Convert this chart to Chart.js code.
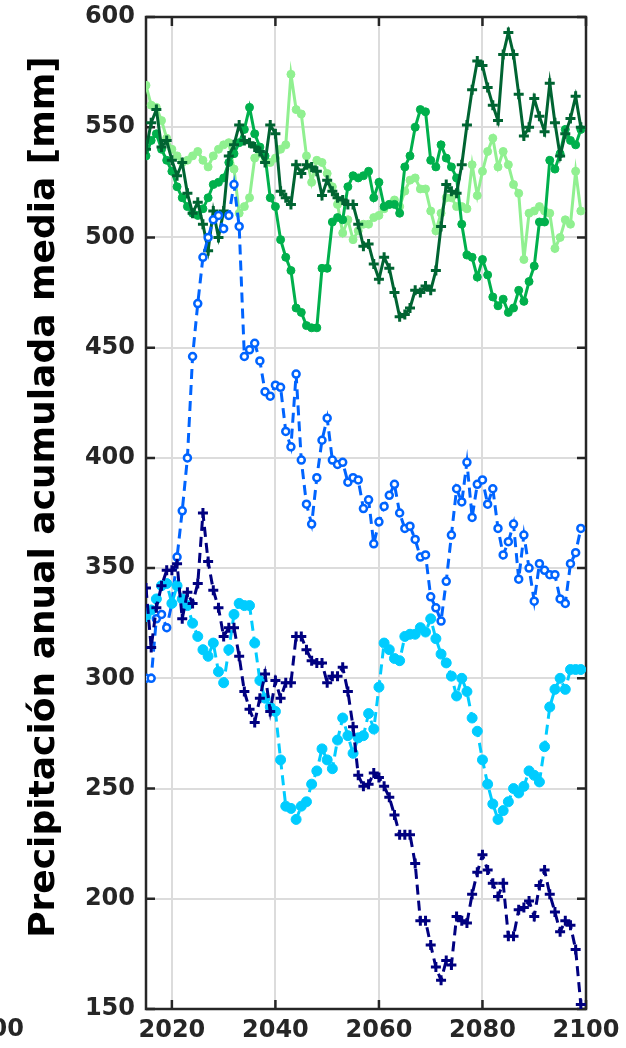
<!DOCTYPE html>
<html>
<head>
<meta charset="utf-8">
<script src="https://cdn.jsdelivr.net/npm/chart.js@4.4.0/dist/chart.umd.min.js"></script>
<style>
  html, body { margin: 0; padding: 0; background: #fff; }
  #wrap { width: 626px; height: 1048px; }
</style>
</head>
<body>
<div id="wrap"><canvas id="chart" width="626" height="1048"></canvas></div>
<script>
// Yearly series, 2015..2099
const firstYear = 2015;
const xTicks = [2020, 2040, 2060, 2080, 2100];
const yTicks = [150, 200, 250, 300, 350, 400, 450, 500, 550, 600];
const yTitle = 'Precipitación anual acumulada media [mm]';
const cutLabel = '00';

const lightGreen = [
  569, 560, 559, 553, 545, 540, 537, 534, 535, 537,
  539, 535, 532, 537, 540, 542, 543, 531, 511, 514,
  518, 536, 538, 535, 534, 536, 540, 542, 574, 558,
  556, 537, 525, 535, 534, 529, 523, 515, 502, 508,
  499, 503, 506, 506, 509, 510, 513, 515, 517, 514,
  521, 526, 527, 522, 522, 512, 503, 511, 518, 518,
  514, 514, 513, 533, 519, 530, 539, 545, 532, 539,
  533, 524, 520, 490, 511, 512, 514, 512, 511, 495,
  500, 508, 506, 530, 512
];
const medGreen = [
  537, 544, 547, 540, 535, 530, 523, 518, 514, 511,
  510, 513, 518, 524, 525, 527, 534, 538, 543, 549,
  559, 547, 541, 537, 518, 514, 499, 491, 485, 468,
  466, 460, 459, 459, 486, 486, 507, 509, 508, 523,
  528, 527, 528, 530, 518, 525, 514, 515, 515, 511,
  532, 537, 550, 558, 557, 535, 532, 542, 536, 532,
  527, 506, 492, 491, 482, 490, 483, 473, 469, 472,
  466, 468, 476, 471, 480, 487, 507, 507, 535, 531,
  538, 549, 544, 542, 549
];
const darkGreen = [
  540, 552, 558, 541, 544, 535, 528, 534, 520, 511,
  516, 506, 494, 512, 500, 512, 537, 542, 551, 544,
  543, 541, 539, 534, 551, 547, 521, 518, 515, 533,
  529, 533, 532, 530, 519, 526, 521, 518, 517, 515,
  515, 506, 496, 497, 488, 481, 491, 486, 475, 464,
  465, 468, 476, 475, 478, 476, 485, 505, 524, 521,
  520, 533, 551, 567, 580, 578, 568, 560, 553, 583,
  593, 583, 565, 546, 550, 563, 555, 548, 570, 552,
  537, 547, 554, 564, 550
];
const blueVals = [
  300, 300, 327, 329, 323, 334, 355, 376, 400, 446,
  470, 491, 500, 508, 510, 504, 510, 524, 505, 446,
  449, 452, 444, 430, 428, 433, 432, 412, 405, 438,
  399, 379, 370, 391, 408, 418, 399, 397, 398, 389,
  391, 390, 377, 381, 361, 371, 378, 383, 388, 375,
  368, 369, 363, 355, 356, 337, 332, 326, 344, 365,
  386, 380, 398, 373, 388, 390, 379, 386, 368, 356,
  362, 370, 345, 365, 350, 335, 352, 349, 347, 347,
  336, 334, 352, 357, 368
];
const cyanVals = [
  328, 331, 336, 342, 343, 334, 342, 336, 333, 325,
  319, 313, 310, 316, 303, 298, 313, 329, 334, 333,
  333, 316, 299, 291, 287, 285, 263, 242, 241, 236,
  242, 244, 252, 258, 268, 263, 259, 272, 282, 274,
  266, 273, 274, 284, 277, 296, 316, 313, 309, 308,
  319, 320, 320, 323, 321, 327, 318, 311, 307, 301,
  292, 300, 294, 282, 276, 263, 252, 243, 236, 240,
  244, 250, 248, 251, 258, 256, 253, 269, 287, 295,
  300, 295, 304, 304, 304
];
const navyVals = [
  341, 314, 332, 342, 349, 349, 352, 327, 339, 334,
  343, 375, 353, 340, 332, 319, 323, 323, 310, 294,
  286, 280, 291, 302, 285, 299, 291, 298, 298, 319,
  319, 313, 308, 307, 307, 298, 301, 301, 305, 294,
  278, 256, 251, 252, 257, 255, 251, 246, 238, 229,
  229, 229, 216, 190, 190, 179, 169, 163, 172, 170,
  192, 190, 189, 202, 212, 220, 213, 207, 201, 207,
  183, 183, 195, 196, 199, 192, 206, 213, 202, 194,
  185, 190, 188, 177, 152
];

const axisColor = '#262626';
const tickFont = { family: '"DejaVu Sans"', size: 24, weight: 'bold' };

function toPoints(vals) {
    return vals.map((v, i) => ({ x: firstYear + i, y: v }));
}

function solidSet(vals, color, style, radius, order) {
    return {
        data: toPoints(vals),
        borderColor: color,
        backgroundColor: color,
        borderWidth: 3,
        pointStyle: style,
        pointRadius: radius,
        pointBorderWidth: style === 'cross' ? 3 : 1,
        pointBackgroundColor: color,
        pointBorderColor: color,
        tension: 0,
        order: order
    };
}

function dashedSet(vals, color, style, radius, fill, order) {
    const ds = solidSet(vals, color, style, radius, order);
    ds.borderDash = [10, 6];
    ds.pointBackgroundColor = fill;
    if (style === 'circle' && fill === '#ffffff') ds.pointBorderWidth = 2.5;
    return ds;
}

// box with inward ticks on all four sides (drawn under the data)
const framePlugin = {
    id: 'frame',
    beforeDatasetsDraw(chart) {
        const { ctx, chartArea: a, scales } = chart;
        ctx.save();
        ctx.strokeStyle = axisColor;
        ctx.lineWidth = 2.5;
        ctx.strokeRect(a.left, a.top, a.right - a.left, a.bottom - a.top);
        ctx.beginPath();
        xTicks.forEach(v => {
            const px = scales.x.getPixelForValue(v);
            ctx.moveTo(px, a.bottom); ctx.lineTo(px, a.bottom - 9);
            ctx.moveTo(px, a.top); ctx.lineTo(px, a.top + 9);
        });
        yTicks.forEach(v => {
            const py = scales.y.getPixelForValue(v);
            ctx.moveTo(a.left, py); ctx.lineTo(a.left + 9, py);
            ctx.moveTo(a.right, py); ctx.lineTo(a.right - 9, py);
        });
        ctx.stroke();
        ctx.restore();
    },
    afterDraw(chart) {
        const ctx = chart.ctx;
        ctx.save();
        ctx.fillStyle = '#000';
        ctx.font = 'bold 36px "DejaVu Sans"';
        ctx.textAlign = 'center';
        ctx.textBaseline = 'middle';
        ctx.translate(45, 497);
        ctx.rotate(-Math.PI / 2);
        ctx.fillText(yTitle, 0, 0);
        ctx.restore();

        ctx.save();
        ctx.fillStyle = axisColor;
        ctx.font = 'bold 24px "DejaVu Sans"';
        ctx.textAlign = 'right';
        ctx.textBaseline = 'middle';
        ctx.fillText(cutLabel, 24, 1030);
        ctx.restore();
    }
};

new Chart(document.getElementById('chart'), {
    type: 'line',
    data: {
        datasets: [
            solidSet(lightGreen, '#90f090', 'circle', 4, 5),
            solidSet(medGreen, '#00b04c', 'circle', 4, 4),
            solidSet(darkGreen, '#006432', 'cross', 5, 3),
            dashedSet(blueVals, '#0064ff', 'circle', 3.5, '#ffffff', 2),
            dashedSet(cyanVals, '#00ccff', 'circle', 5, '#00ccff', 1),
            dashedSet(navyVals, '#000080', 'cross', 5, '#000080', 0)
        ]
    },
    options: {
        responsive: false,
        animation: false,
        devicePixelRatio: 1,
        layout: { padding: { top: 17, right: 40, left: 0, bottom: 0 } },
        plugins: {
            legend: { display: false },
            tooltip: { enabled: false }
        },
        scales: {
            x: {
                type: 'linear',
                min: 2015,
                max: 2100,
                afterBuildTicks: s => { s.ticks = xTicks.map(v => ({ value: v })); },
                afterFit: s => { s.height = 39; s.paddingLeft = 0; s.paddingRight = 0; },
                ticks: {
                    font: tickFont,
                    color: axisColor,
                    padding: 7,
                    maxRotation: 0,
                    autoSkip: false,
                    callback: v => String(v)
                },
                grid: { color: '#dcdcdc', lineWidth: 2, drawTicks: false },
                border: { display: false }
            },
            y: {
                min: 150,
                max: 600,
                afterBuildTicks: s => { s.ticks = yTicks.map(v => ({ value: v })); },
                afterFit: s => { s.width = 146; s.paddingTop = 0; s.paddingBottom = 0; },
                ticks: {
                    font: tickFont,
                    color: axisColor,
                    padding: 11,
                    autoSkip: false,
                    callback: v => String(v)
                },
                grid: { color: '#dcdcdc', lineWidth: 2, drawTicks: false },
                border: { display: false }
            }
        }
    },
    plugins: [framePlugin]
});
</script>
</body>
</html>
